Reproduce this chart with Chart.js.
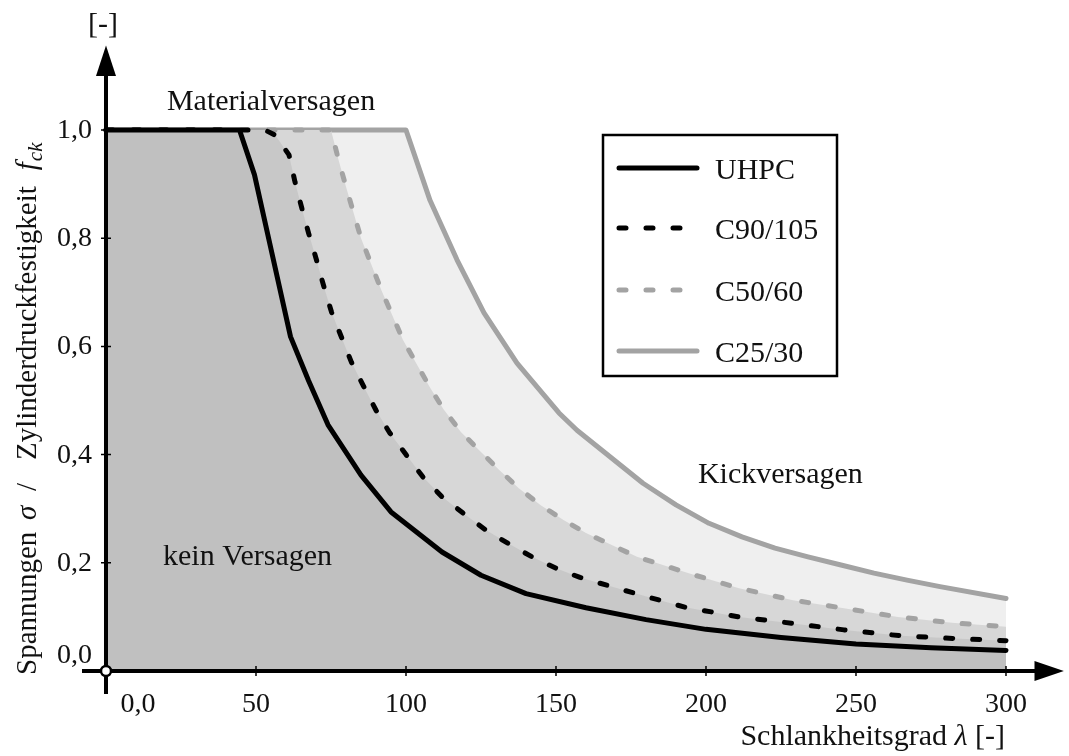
<!DOCTYPE html>
<html>
<head>
<meta charset="utf-8">
<script src="https://cdn.jsdelivr.net/npm/chart.js"></script>
<style>
  html, body { margin: 0; padding: 0; background: #fff; }
</style>
</head>
<body>
<canvas id="chart" width="1069" height="756"></canvas>
<script>
// Schlankheitsgrad lambda [-] and normalised stress sigma / f_ck [-]
const uhpcX = [0, 44.5, 49.5, 55, 61.5, 67.5, 74, 85, 95, 112, 125, 140, 160, 180, 200, 225, 250, 275, 300];
const uhpcY = [1.0, 1.0, 0.917, 0.78, 0.618, 0.537, 0.455, 0.362, 0.294, 0.22, 0.177, 0.143, 0.117, 0.095, 0.077, 0.062, 0.050, 0.043, 0.038];

const c90X = [0, 53, 56.5, 61, 63, 65.3, 67.5, 70, 72.5, 75.2, 78.5, 81.8, 85.8, 90, 94.6, 100, 105.6, 112, 119, 126.5, 134, 142, 150, 158, 176, 193, 211, 229, 246, 265, 283, 300];
const c90Y = [1.0, 1.0, 0.99, 0.954, 0.904, 0.855, 0.81, 0.763, 0.713, 0.663, 0.617, 0.571, 0.527, 0.482, 0.44, 0.40, 0.359, 0.322, 0.292, 0.261, 0.236, 0.211, 0.19, 0.173, 0.144, 0.118, 0.10, 0.088, 0.076, 0.065, 0.060, 0.056];

const c50X = [0, 75, 77.5, 80, 85, 91.8, 99, 107.9, 112.5, 118.3, 124.4, 131, 137.6, 144.8, 152.5, 160, 177, 194, 211, 229, 246, 264, 282, 300];
const c50Y = [1.0, 1.0, 0.945, 0.895, 0.80, 0.704, 0.612, 0.525, 0.484, 0.442, 0.408, 0.372, 0.338, 0.307, 0.279, 0.255, 0.211, 0.181, 0.153, 0.131, 0.116, 0.10, 0.089, 0.082];

const c25X = [0, 100, 108, 117, 126, 137, 151, 157, 168, 179, 190, 201, 212, 223, 234, 245, 256, 267, 278, 300];
const c25Y = [1.0, 1.0, 0.87, 0.76, 0.662, 0.569, 0.477, 0.445, 0.396, 0.347, 0.307, 0.273, 0.248, 0.227, 0.211, 0.196, 0.181, 0.168, 0.156, 0.134];

const seriesNames = ['UHPC', 'C90/105', 'C50/60', 'C25/30'];

const xTicks = [0, 50, 100, 150, 200, 250, 300];
const xTickLabels = ['0,0', '50', '100', '150', '200', '250', '300'];
const yTicks = [0, 0.2, 0.4, 0.6, 0.8, 1.0];
const yTickLabels = ['0,0', '0,2', '0,4', '0,6', '0,8', '1,0'];

const SERIF = '"Liberation Serif", "DejaVu Serif", serif';

function toPoints(xs, ys) {
  return xs.map((x, i) => ({ x: x, y: ys[i] }));
}

// axes with arrows, ticks, labels, region texts
const axesPlugin = {
  id: 'axesPlugin',
  afterDatasetsDraw(chart) {
    const ctx = chart.ctx;
    const xs = chart.scales.x;
    const ys = chart.scales.y;
    const X = v => xs.getPixelForValue(v);
    const Y = v => ys.getPixelForValue(v);
    const x0 = X(0), y0 = Y(0);

    ctx.save();
    ctx.strokeStyle = '#000';
    ctx.fillStyle = '#000';

    // axis lines
    ctx.lineWidth = 4;
    ctx.beginPath();
    ctx.moveTo(X(-8), y0);
    ctx.lineTo(X(310), y0);
    ctx.moveTo(x0, Y(-0.0425));
    ctx.lineTo(x0, Y(1.1));
    ctx.stroke();

    // arrow heads
    ctx.beginPath();
    ctx.moveTo(X(319.3), y0);
    ctx.lineTo(X(309.5), y0 - 10);
    ctx.lineTo(X(309.5), y0 + 10);
    ctx.closePath();
    ctx.fill();
    ctx.beginPath();
    ctx.moveTo(x0, Y(1.156));
    ctx.lineTo(x0 - 10, Y(1.1));
    ctx.lineTo(x0 + 10, Y(1.1));
    ctx.closePath();
    ctx.fill();

    // tick marks
    ctx.lineWidth = 1.5;
    ctx.beginPath();
    xTicks.forEach(v => {
      if (v === 0) return;
      ctx.moveTo(X(v), y0 - 5);
      ctx.lineTo(X(v), y0 + 5);
    });
    yTicks.forEach(v => {
      if (v === 0) return;
      ctx.moveTo(x0 - 5, Y(v));
      ctx.lineTo(x0 + 5, Y(v));
    });
    ctx.stroke();

    // origin marker
    ctx.beginPath();
    ctx.arc(x0, y0, 5, 0, Math.PI * 2);
    ctx.fillStyle = '#fff';
    ctx.fill();
    ctx.lineWidth = 2.5;
    ctx.stroke();

    // tick labels
    ctx.fillStyle = '#111';
    ctx.font = '28px ' + SERIF;
    ctx.textBaseline = 'alphabetic';
    ctx.textAlign = 'center';
    xTicks.forEach((v, i) => {
      const px = v === 0 ? x0 + 32 : X(v);
      ctx.fillText(xTickLabels[i], px, y0 + 41);
    });
    ctx.textAlign = 'right';
    yTicks.forEach((v, i) => {
      const py = v === 0 ? y0 - 8 : Y(v) + 8;
      ctx.fillText(yTickLabels[i], x0 - 14, py);
    });

    // region texts
    ctx.font = '30px ' + SERIF;
    ctx.textAlign = 'left';
    ctx.fillText('Materialversagen', X(20.3), Y(1.037));
    ctx.fillText('Kickversagen', X(197.3), Y(0.3475));
    ctx.fillText('kein Versagen', X(19), Y(0.196));

    // unit on top of y axis
    ctx.textAlign = 'center';
    ctx.fillText('[-]', x0 - 3, 33);

    // x axis title, right aligned
    const parts = [['Schlankheitsgrad ', ''], ['\u03bb', 'italic '], [' [-]', '']];
    let total = 0;
    parts.forEach(p => { ctx.font = p[1] + '30px ' + SERIF; total += ctx.measureText(p[0]).width; });
    let cx = 1005 - total;
    ctx.textAlign = 'left';
    parts.forEach(p => {
      ctx.font = p[1] + '30px ' + SERIF;
      ctx.fillText(p[0], cx, 745);
      cx += ctx.measureText(p[0]).width;
    });

    // y axis title, rotated
    ctx.save();
    ctx.translate(36, 675);
    ctx.rotate(-Math.PI / 2);
    ctx.font = '29px ' + SERIF;
    ctx.fillText('Spannungen', 0, 0);
    ctx.font = 'italic 29px ' + SERIF;
    ctx.fillText('\u03c3', 155, 0);
    ctx.font = '29px ' + SERIF;
    ctx.fillText('/', 184, 0);
    const zw = ctx.measureText('Zylinderdruckfestigkeit').width;
    ctx.fillText('Zylinderdruckfestigkeit', 215, 0);
    const fx = 215 + zw + 16;
    ctx.font = 'italic 29px ' + SERIF;
    ctx.fillText('f', fx, 0);
    const fw = ctx.measureText('f').width;
    ctx.font = 'italic 21px ' + SERIF;
    ctx.fillText('ck', fx + fw + 1, 6);
    ctx.restore();

    ctx.restore();
  }
};

// legend box with line samples
const legendPlugin = {
  id: 'legendBox',
  afterDraw(chart) {
    const ctx = chart.ctx;
    const left = 603, top = 135, right = 837, bottom = 376;
    ctx.save();
    ctx.fillStyle = '#fff';
    ctx.fillRect(left, top, right - left, bottom - top);
    ctx.strokeStyle = '#000';
    ctx.lineWidth = 2.5;
    ctx.strokeRect(left, top, right - left, bottom - top);

    const rowY = [168, 228, 290, 351];
    chart.data.datasets.forEach((ds, i) => {
      const y = rowY[i];
      ctx.beginPath();
      ctx.lineWidth = ds.borderWidth;
      ctx.strokeStyle = ds.borderColor;
      ctx.lineCap = 'round';
      ctx.setLineDash(ds.borderDash || []);
      ctx.moveTo(619, y);
      ctx.lineTo(697, y);
      ctx.stroke();
      ctx.setLineDash([]);
      ctx.fillStyle = '#111';
      ctx.font = '30px ' + SERIF;
      ctx.textAlign = 'left';
      ctx.textBaseline = 'alphabetic';
      ctx.fillText(ds.label, 715, y + 11);
    });
    ctx.restore();
  }
};

const lineBase = {
  borderWidth: 5,
  pointRadius: 0,
  pointHoverRadius: 0,
  tension: 0,
  fill: 'origin',
  borderJoinStyle: 'round',
  borderCapStyle: 'round'
};

new Chart(document.getElementById('chart'), {
  type: 'line',
  data: {
    datasets: [
      Object.assign({}, lineBase, {
        label: seriesNames[0], data: toPoints(uhpcX, uhpcY),
        borderColor: '#000000', backgroundColor: '#c0c0c0'
      }),
      Object.assign({}, lineBase, {
        label: seriesNames[1], data: toPoints(c90X, c90Y),
        borderColor: '#000000', backgroundColor: '#c8c8c8', borderDash: [7, 20]
      }),
      Object.assign({}, lineBase, {
        label: seriesNames[2], data: toPoints(c50X, c50Y),
        borderColor: '#a3a3a3', backgroundColor: '#d7d7d7', borderDash: [7, 20]
      }),
      Object.assign({}, lineBase, {
        label: seriesNames[3], data: toPoints(c25X, c25Y),
        borderColor: '#a3a3a3', backgroundColor: '#efefef'
      })
    ]
  },
  options: {
    responsive: false,
    animation: false,
    layout: { padding: { left: 82, right: 4, top: 45, bottom: 62 } },
    plugins: {
      legend: { display: false },
      tooltip: { enabled: false }
    },
    scales: {
      x: { type: 'linear', min: -8, max: 319.67, display: false },
      y: { type: 'linear', min: -0.0425, max: 1.1571, display: false }
    }
  },
  plugins: [axesPlugin, legendPlugin]
});
</script>
</body>
</html>
